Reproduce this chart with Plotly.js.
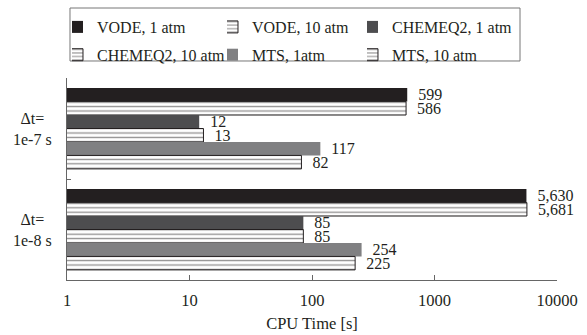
<!DOCTYPE html>
<html>
<head>
<meta charset="utf-8">
<script src="https://cdn.plot.ly/plotly-3.0.1.min.js"></script>
<style>html,body{margin:0;padding:0;background:#fff;}#chart{width:587px;height:335px;}</style>
</head>
<body>
<div id="chart"></div>
<script>
// Data
var categories = ["Δt=<br>1e-7 s", "Δt=<br>1e-8 s"];
var seriesNames = ["VODE, 1 atm", "VODE, 10 atm", "CHEMEQ2, 1 atm", "CHEMEQ2, 10 atm", "MTS, 1atm", "MTS, 10 atm"];
var vode1 = [599, 5630];
var vode10 = [586, 5681];
var chemeq1 = [12, 85];
var chemeq10 = [13, 85];
var mts1 = [117, 254];
var mts10 = [82, 225];
var tickVals = [1, 10, 100, 1000, 10000];
var tickText = ["1", "10", "100", "1000", "10000"];

var values = [vode1, vode10, chemeq1, chemeq10, mts1, mts10];
var styles = [
  {color: "#231f20", pattern: false},
  {color: "#ffffff", pattern: true},
  {color: "#4d4d4f", pattern: false},
  {color: "#ffffff", pattern: true},
  {color: "#808082", pattern: false},
  {color: "#ffffff", pattern: true}
];
// legend column for each series (3 columns x 2 rows, as in the reference)
var legendIds = ["legend", "legend2", "legend3", "legend", "legend2", "legend3"];
var FONT = "Liberation Serif, Times New Roman, serif";
var NB = "\u00a0\u00a0";

var traces = values.map(function (v, i) {
  var s = styles[i];
  var marker = {color: s.color, line: {color: s.pattern ? "#231f20" : s.color, width: s.pattern ? 1 : 0}};
  if (s.pattern) {
    marker.pattern = {shape: "-", fgcolor: "#231f20", bgcolor: "#ffffff", size: 4.4, solidity: 0.3, fillmode: "overlay"};
  }
  return {
    type: "bar",
    orientation: "h",
    name: seriesNames[i],
    legend: legendIds[i],
    legendgroup: "g" + i,
    x: v,
    y: categories,
    marker: marker,
    text: v.map(function (n) { return NB + n.toLocaleString("en-US"); }),
    textposition: "outside",
    constraintext: "none",
    cliponaxis: false,
    textfont: {family: FONT, size: 16, color: "#231f20"},
    hoverinfo: "none"
  };
});

var annotations = categories.map(function (c) {
  return {
    xref: "paper", yref: "y", x: -0.0714, y: c, text: c, showarrow: false,
    xanchor: "center", yanchor: "middle", align: "center",
    font: {family: FONT, size: 16, color: "#231f20"}
  };
});

function legendSpec(xPaper) {
  return {
    orientation: "v", x: xPaper, xanchor: "left", y: 1.3366, yanchor: "top",
    borderwidth: 0, bgcolor: "rgba(0,0,0,0)",
    font: {family: FONT, size: 16, color: "#231f20"},
    itemwidth: 30, traceorder: "grouped", tracegroupgap: 4,
    indentation: -15
  };
}

var layout = {
  width: 587, height: 335,
  margin: {l: 67, r: 30, t: 78, b: 55, pad: 0, autoexpand: false},
  paper_bgcolor: "#ffffff", plot_bgcolor: "#ffffff",
  font: {family: FONT, size: 16, color: "#231f20"},
  barmode: "group", bargap: 0.2, bargroupgap: 0,
  showlegend: true,
  legend: legendSpec(0.0102),
  legend2: legendSpec(0.3265),
  legend3: legendSpec(0.6122),
  shapes: [{
    type: "rect", xref: "paper", yref: "paper",
    x0: 0.0061, x1: 0.9245, y0: 1.0842, y1: 1.3465,
    line: {color: "#777", width: 1}, fillcolor: "rgba(0,0,0,0)", layer: "below"
  }],
  xaxis: {
    type: "log", range: [0, 4], tickvals: tickVals, ticktext: tickText,
    showgrid: false, zeroline: false, showline: true, linecolor: "#666", linewidth: 1,
    ticks: "inside", ticklen: 5, tickcolor: "#666", ticklabelstandoff: 5,
    tickfont: {family: FONT, size: 16.5, color: "#231f20"},
    title: {text: "CPU Time [s]", font: {family: FONT, size: 16.5, color: "#231f20"}, standoff: 8}
  },
  yaxis: {
    type: "category", autorange: "reversed", showticklabels: false,
    showgrid: false, zeroline: false, showline: true, linecolor: "#666", linewidth: 1,
    ticks: "inside", ticklen: 4, tickcolor: "#666", tickson: "boundaries"
  },
  annotations: annotations
};

Plotly.newPlot("chart", traces, layout, {displayModeBar: false, staticPlot: true});
</script>
</body>
</html>
